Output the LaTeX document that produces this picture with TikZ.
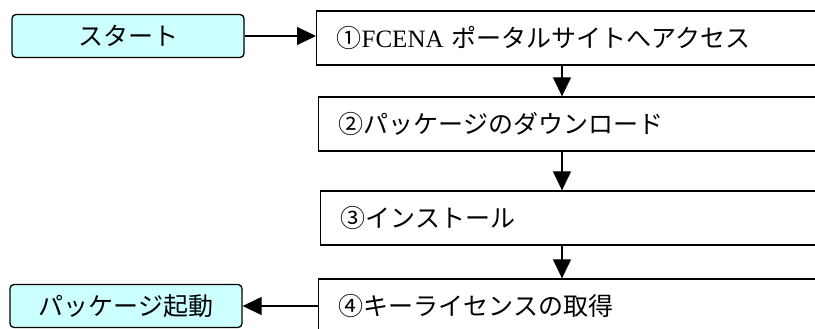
\documentclass[tikz,border=0pt]{standalone}
\usepackage{fontspec}
\newfontfamily\jpfont{Noto Sans CJK JP}
\newfontfamily\latinfont{Liberation Serif}
\usetikzlibrary{arrows.meta}
\definecolor{endcolor}{HTML}{CCFFFF}
\tikzset{
	endbox/.style={draw, line width=1.3pt, rounded corners=4pt, fill=endcolor, minimum width=232pt, minimum height=43pt, inner sep=0pt},
	stepbox/.style={draw, line width=1.3pt, anchor=west, minimum height=54pt, text width=480pt, inner xsep=20pt, align=left},
	flow/.style={line width=1.2pt, -{Triangle[length=19pt,width=18pt]}}
}

\begin{document}
\begin{tikzpicture}[x=1pt,y=-1pt,font=\jpfont\fontsize{25}{30}\selectfont]
		\useasboundingbox (0,0) rectangle (815,329);
		\clip (0,0) rectangle (815,329);
		\node[endbox] (start) at (128,36) {スタート};
		\node[endbox] (launch) at (126,306) {パッケージ起動};
		\foreach \name/\x/\y/\txt in {%
			s1/316/38/①{\latinfont FCENA} ポータルサイトへアクセス,
			s2/318/124/②パッケージのダウンロード,
			s3/320/218/③インストール,
			s4/318/306/④キーライセンスの取得}%
		{
			\node[stepbox] (\name) at (\x,\y) {\txt};
		};
		\coordinate (axis) at (562,0);
		\draw[flow] (start.east) -- (start.east -| s1.west);
		\draw[flow] (s1.south -| axis) -- (s2.north -| axis);
		\draw[flow] (s2.south -| axis) -- (s3.north -| axis);
		\draw[flow] (s3.south -| axis) -- (s4.north -| axis);
		\draw[flow] (s4.west) -- (s4.west -| launch.east);
	\end{tikzpicture}
\end{document}
